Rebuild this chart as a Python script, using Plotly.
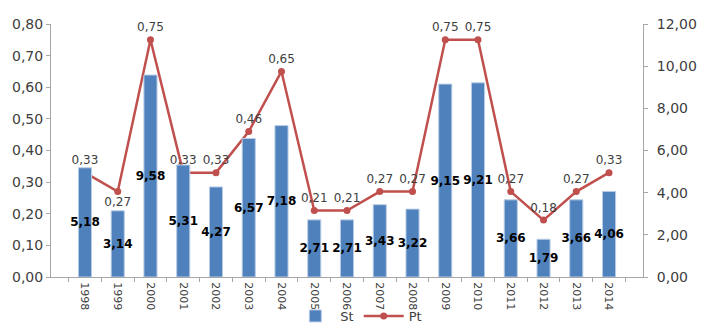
import plotly.graph_objects as go

years = [str(y) for y in range(1998, 2015)]
st_values = [5.18, 3.14, 9.58, 5.31, 4.27, 6.57, 7.18, 2.71, 2.71, 3.43, 3.22,
             9.15, 9.21, 3.66, 1.79, 3.66, 4.06]
pt_values = [0.33, 0.27, 0.75, 0.33, 0.33, 0.46, 0.65, 0.21, 0.21, 0.27, 0.27,
             0.75, 0.75, 0.27, 0.18, 0.27, 0.33]
pt_label_pos = ["bottom center" if y == "1999" else "top center" for y in years]

FONT = "DejaVu Sans"
BLUE = "#4F81BD"
RED = "#C0504D"
AXIS = "#A6A6A6"
TEXT = "#404040"

fig = go.Figure()

fig.add_trace(go.Bar(
    x=years, y=st_values, name="St", yaxis="y2",
    marker=dict(color=BLUE, line=dict(color="#B9CDE5", width=1)),
    texttemplate="<b>%{y:.2f}</b>", textposition="inside", textangle=0,
    insidetextanchor="middle", constraintext="none",
    textfont=dict(family=FONT, size=12, color="black"),
    hoverinfo="skip",
))

fig.add_trace(go.Scatter(
    x=years, y=pt_values, name="Pt", yaxis="y",
    mode="lines+markers+text",
    line=dict(color=RED, width=2.5),
    marker=dict(color=RED, size=7),
    texttemplate="%{y:.2f}", textposition=pt_label_pos,
    textfont=dict(family=FONT, size=12, color=TEXT),
    cliponaxis=False,
))

tick_font = dict(family=FONT, size=14, color=TEXT)

fig.update_layout(
    width=702, height=331,
    margin=dict(l=51, r=59, t=24, b=54, autoexpand=False),
    paper_bgcolor="white", plot_bgcolor="white",
    separators=",.",
    font=dict(family=FONT, size=13, color=TEXT),
    bargap=0.6,
    showlegend=True,
    legend=dict(orientation="h", x=0.52, xanchor="center",
                yref="container", y=0.0, yanchor="bottom",
                bgcolor="rgba(0,0,0,0)",
                font=dict(family=FONT, size=13, color=TEXT),
                itemwidth=40, tracegroupgap=0),
    xaxis=dict(type="category", tickangle=90, showline=True, linecolor=AXIS,
               ticks="outside", ticklen=4, tickcolor=AXIS, tickson="boundaries",
               showgrid=False, automargin=False, ticklabelstandoff=2,
               tickfont=dict(family=FONT, size=11, color=TEXT)),
    yaxis=dict(range=[0, 0.8], dtick=0.1, tickformat=".2f", showline=True,
               linecolor=AXIS, ticks="outside", ticklen=4, tickcolor=AXIS,
               showgrid=False, zeroline=False, automargin=False,
               tickfont=tick_font),
    yaxis2=dict(range=[0, 12], dtick=2, tickformat=".2f", overlaying="y",
                side="right", showline=True, linecolor=AXIS, ticks="outside",
                ticklen=4, tickcolor=AXIS, showgrid=False, zeroline=False,
                automargin=False, ticklabelstandoff=6, tickfont=tick_font),
)

fig.write_html("out.html")
